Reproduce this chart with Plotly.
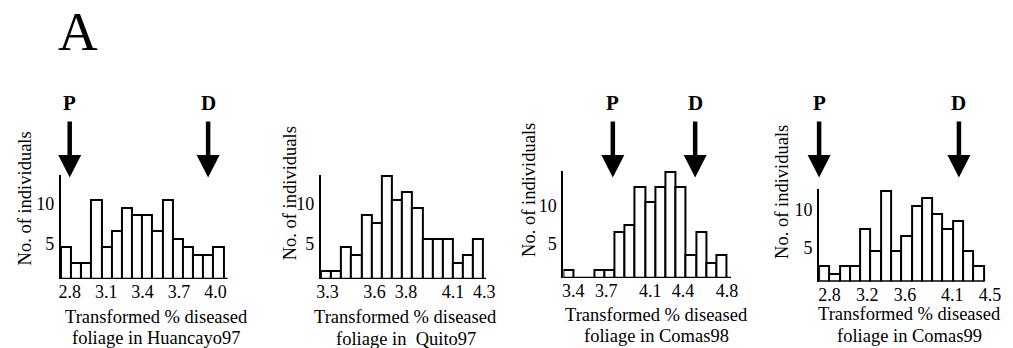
import plotly.graph_objects as go

# ---------------- data ----------------
huancayo97_counts = [4, 2, 2, 10, 4, 6, 9, 8, 8, 6, 10, 5, 4, 3, 3, 4]
quito97_counts = [1, 1, 4, 3, 8, 7, 13, 10, 11, 9, 5, 5, 5, 2, 3, 5]
comas98_counts = [1, 0, 0, 1, 1, 6, 7, 12, 10, 12, 14, 12, 3, 6, 2, 3]
comas99_counts = [2, 1, 2, 2, 7, 4, 12, 4, 6, 10, 11, 9, 7, 8, 4, 2]

bin_starts = [2.728, 3.257, 3.31, 2.69]
bin_widths = [0.0837, 0.0648, 0.0929, 0.1089]

x_ticks_h97 = [2.8, 3.1, 3.4, 3.7, 4.0]
x_ticks_q97 = [3.3, 3.6, 3.8, 4.1, 4.3]
x_ticks_c98 = [3.4, 3.7, 4.1, 4.4, 4.8]
x_ticks_c99 = [2.8, 3.2, 3.6, 4.1, 4.5]
y_ticks = [5, 10]

parent_P = [2.80, None, 3.76, 2.69]
parent_D = [3.94, None, 4.51, 4.17]

site_names = ["Huancayo97", " Quito97", "Comas98", "Comas99"]

counts_all = [huancayo97_counts, quito97_counts, comas98_counts, comas99_counts]
ticks_all = [x_ticks_h97, x_ticks_q97, x_ticks_c98, x_ticks_c99]

# ---------------- layout (pixel geometry) ----------------
W, H = 1013, 348
FONT = "Liberation Serif"
layout_px = [
    dict(left=57.7, scale=123.0, bottom=279.0, top=175.0, ytop=13.1, axis_end=226.7,
         title_x=154.4, l1=317.0, l2=338.0, ytitle_x=21.7, ytitle_y=198.0),
    dict(left=321.0, scale=158.7, bottom=279.0, top=175.0, ytop=13.1, axis_end=488.3,
         title_x=407.0, l1=317.0, l2=338.5, ytitle_x=290.0, ytitle_y=193.0),
    dict(left=566.7, scale=111.2, bottom=278.0, top=171.0, ytop=14.1, axis_end=736.7,
         title_x=660.7, l1=314.5, l2=336.0, ytitle_x=531.7, ytitle_y=190.0),
    dict(left=825.7, scale=95.7, bottom=281.5, top=189.0, ytop=12.25, axis_end=993.0,
         title_x=917.3, l1=314.0, l2=335.5, ytitle_x=788.3, ytitle_y=191.7),
]


def px_x(p):
    return p / W


def px_y(p):
    return 1 - p / H


fig = go.Figure()
shapes = []
annotations = []

for i, (counts, ticks, L) in enumerate(zip(counts_all, ticks_all, layout_px)):
    n = i + 1
    xa = "x" if n == 1 else f"x{n}"
    ya = "y" if n == 1 else f"y{n}"
    start, w = bin_starts[i], bin_widths[i]
    centers = [start + (k + 0.5) * w for k in range(len(counts))]
    fig.add_trace(go.Bar(
        x=centers, y=counts, width=[w] * len(counts),
        marker=dict(color="white", line=dict(color="black", width=2)),
        xaxis=xa, yaxis=ya, showlegend=False, hoverinfo="skip",
    ))
    last_tick_px = L["left"] + (max(ticks) - start) * L["scale"]
    right_px = max(L["axis_end"], last_tick_px + 2)
    x_end = start + (right_px - L["left"]) / L["scale"]
    axis_end_val = start + (L["axis_end"] - L["left"]) / L["scale"]

    xkey = "xaxis" if n == 1 else f"xaxis{n}"
    ykey = "yaxis" if n == 1 else f"yaxis{n}"
    fig.update_layout(**{
        xkey: dict(domain=[px_x(L["left"]), px_x(right_px)], range=[start, x_end],
                   anchor=ya, showline=False, showgrid=False, zeroline=False,
                   tickvals=ticks, tickformat=".1f", ticks="",
                   tickfont=dict(family=FONT, size=18, color="black"),
                   fixedrange=True),
        ykey: dict(domain=[px_y(L["bottom"]), px_y(L["top"])], range=[0, L["ytop"]],
                   anchor=xa, showline=True, linecolor="black", linewidth=2.2,
                   showgrid=False, zeroline=False, tickvals=y_ticks, ticks="",
                   ticklabelshift=4, ticklabelstandoff=1,
                   tickfont=dict(family=FONT, size=18, color="black"),
                   fixedrange=True),
    })
    # baseline (x axis line)
    shapes.append(dict(type="line", xref=xa, yref=ya, x0=start, x1=axis_end_val,
                       y0=0, y1=0, line=dict(color="black", width=2.4)))

    # axis titles
    annotations.append(dict(text="No. of individuals", textangle=-90,
                            x=px_x(L["ytitle_x"]), y=px_y(L["ytitle_y"]),
                            xref="paper", yref="paper", showarrow=False,
                            xanchor="center", yanchor="middle",
                            font=dict(family=FONT, size=18.5, color="black")))
    annotations.append(dict(text="Transformed % diseased",
                            x=px_x(L["title_x"]), y=px_y(L["l1"]),
                            xref="paper", yref="paper", showarrow=False,
                            xanchor="center", yanchor="middle",
                            font=dict(family=FONT, size=18.5, color="black")))
    annotations.append(dict(text="foliage in " + site_names[i],
                            x=px_x(L["title_x"]), y=px_y(L["l2"]),
                            xref="paper", yref="paper", showarrow=False,
                            xanchor="center", yanchor="middle",
                            font=dict(family=FONT, size=18.5, color="black")))

    # parental arrows (positioned from the data value through the panel's x mapping)
    for label, val in (("P", parent_P[i]), ("D", parent_D[i])):
        if val is None:
            continue
        xp = px_x(L["left"] + (val - start) * L["scale"])
        shapes.append(dict(type="line", xref="paper", yref="paper", x0=xp, x1=xp,
                           y0=px_y(121.5), y1=px_y(157), line=dict(color="black", width=4.5)))
        shapes.append(dict(type="path", xref="paper", yref="paper", xsizemode="pixel",
                           xanchor=xp,
                           path=f"M -11.5,{px_y(155)} L 11.5,{px_y(155)} L 0,{px_y(177.5)} Z",
                           fillcolor="black", line=dict(width=0)))
        annotations.append(dict(text=f"<b>{label}</b>", x=xp, y=px_y(102.5),
                                xref="paper", yref="paper", showarrow=False,
                                xanchor="center", yanchor="middle",
                                font=dict(family=FONT, size=21, color="black")))

annotations.append(dict(text="A", x=px_x(75), y=1, xref="paper", yref="paper",
                        showarrow=False, xanchor="center", yanchor="top", borderpad=0,
                        font=dict(family=FONT, size=55, color="black")))

fig.update_layout(
    width=W, height=H,
    margin=dict(l=0, r=0, t=0, b=0),
    paper_bgcolor="white", plot_bgcolor="white",
    bargap=0, showlegend=False,
    shapes=shapes, annotations=annotations,
)

fig.write_html("out.html", config={"displayModeBar": False},
               post_script="document.body.style.margin='0px';document.body.style.overflow='hidden';")
